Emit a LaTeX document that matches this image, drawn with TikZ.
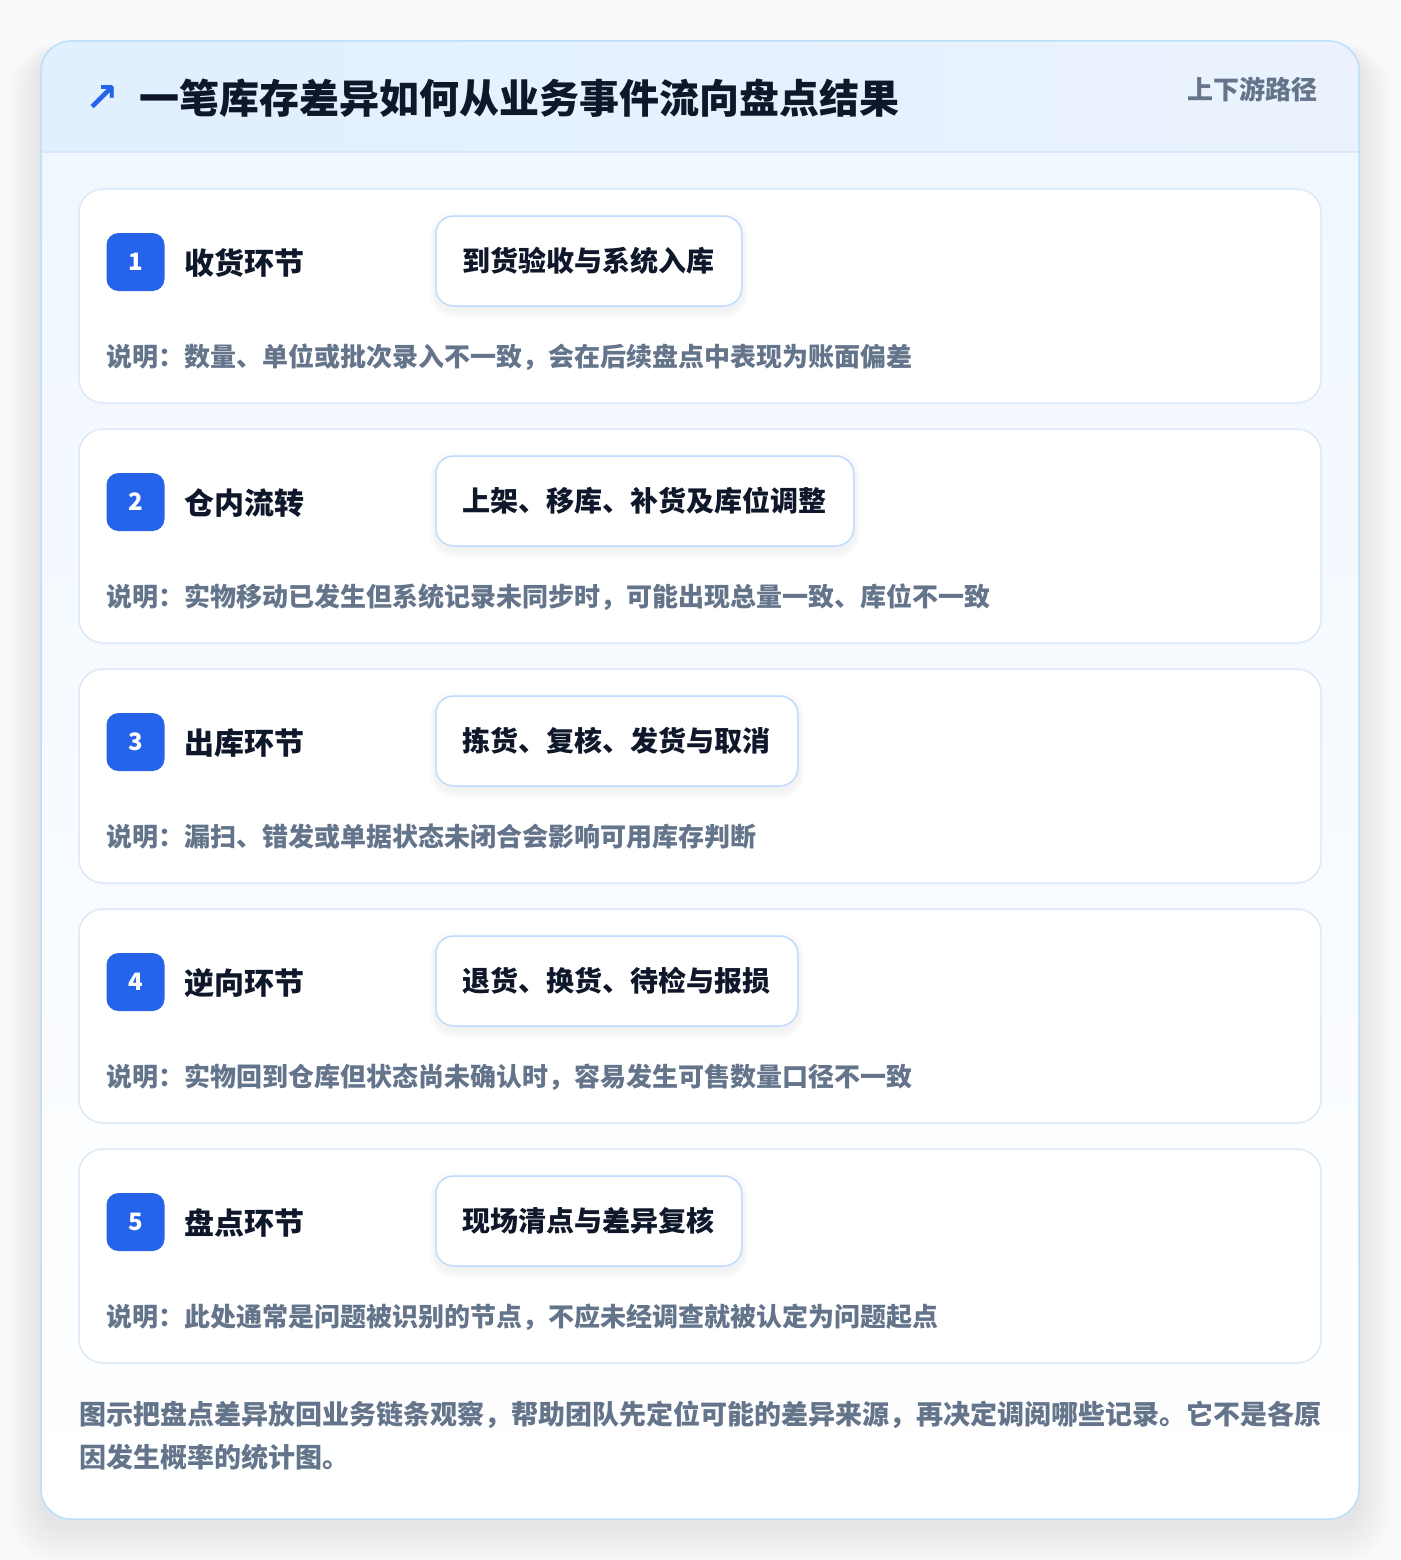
\documentclass[tikz,border=0pt]{standalone}
\usepackage{fontspec}
\setmainfont{Noto Sans CJK SC}
\newfontfamily\dejavu{DejaVu Sans}
\definecolor{pagebg}{HTML}{F9F9FB}
\definecolor{hdrL}{HTML}{E0F0FE}
\definecolor{hdrR}{HTML}{EBF2FE}
\definecolor{bodyT}{HTML}{F0F7FF}
\definecolor{hdrline}{HTML}{D6E8FA}
\definecolor{outerb}{HTML}{BCE0F7}
\definecolor{cardb}{HTML}{DCEAF8}
\definecolor{pillb}{HTML}{BFDBFE}
\definecolor{badgec}{HTML}{2563EB}
\definecolor{titlec}{HTML}{0F172A}
\definecolor{grayc}{HTML}{64748B}
\tikzset{
  cardbox/.style={draw=cardb, line width=1.5pt, fill=white, rounded corners=24pt},
  badgebox/.style={fill=badgec, rounded corners=12pt, minimum width=58pt, minimum height=58pt, inner sep=0pt, text=white, font=\bfseries\fontsize{24}{26}\selectfont},
  steptitle/.style={anchor=west, inner sep=0pt, text=titlec, font=\bfseries\fontsize{30}{34}\selectfont},
  pillbox/.style={anchor=west, draw=pillb, line width=1.5pt, fill=white, rounded corners=18pt, minimum height=90pt, inner xsep=27pt, inner ysep=0pt, text=titlec, font=\bfseries\fontsize{28}{32}\selectfont},
  desctext/.style={anchor=west, inner sep=0pt, text=grayc, font=\bfseries\fontsize{26}{30}\selectfont},
  foottext/.style={anchor=west, inner sep=0pt, text=grayc, font=\bfseries\fontsize{27}{32}\selectfont}
}
\begin{document}
\begin{tikzpicture}[x=1pt,y=-1pt]
\useasboundingbox (0,0) rectangle (1400,1560);
\fill[pagebg] (0,0) rectangle (1400,1560);
% soft shadow
\foreach \i in {1,...,20}{
  \fill[black, opacity=0.0035, rounded corners=30+\i] (41-1.6*\i, 41-0.4*\i+10) rectangle (1359+1.6*\i, 1519+1.8*\i+8);
}
\fill[white, rounded corners=30pt] (41,41) rectangle (1359,1519);
\begin{scope}
  \clip[rounded corners=30pt] (41,41) rectangle (1359,1519);
  \shade[left color=hdrL, right color=hdrR] (41,41) rectangle (1359,152);
  \shade[top color=bodyT, bottom color=white] (41,152) rectangle (1359,1519);
\end{scope}
\draw[hdrline, line width=1.5pt] (41,152) -- (1359,152);
\draw[outerb, line width=1.5pt, rounded corners=30pt] (41,41) rectangle (1359,1519);
% header
\node[text=badgec, inner sep=0pt, font=\dejavu\bfseries\fontsize{40}{40}\selectfont] (icon) at (102,99) {↗};
\node[anchor=west, inner sep=0pt, text=titlec, font=\bfseries\fontsize{40}{44}\selectfont] (title) at (139,98) {一笔库存差异如何从业务事件流向盘点结果};
\node[anchor=east, inner sep=0pt, text=grayc, font=\bfseries\fontsize{26}{30}\selectfont] (tag) at (1318,89) {上下游路径};
% cards
\foreach \n/\t/\p/\d in {
  1/收货环节/到货验收与系统入库/说明：数量、单位或批次录入不一致，会在后续盘点中表现为账面偏差,
  2/仓内流转/上架、移库、补货及库位调整/说明：实物移动已发生但系统记录未同步时，可能出现总量一致、库位不一致,
  3/出库环节/拣货、复核、发货与取消/说明：漏扫、错发或单据状态未闭合会影响可用库存判断,
  4/逆向环节/退货、换货、待检与报损/说明：实物回到仓库但状态尚未确认时，容易发生可售数量口径不一致,
  5/盘点环节/现场清点与差异复核/说明：此处通常是问题被识别的节点，不应未经调查就被认定为问题起点}{
  \pgfmathsetmacro{\yo}{189+(\n-1)*240}
  \draw[cardbox] (79,\yo) rectangle (1321,\yo+214);
  \node[badgebox] (badge\n) at (135.5,\yo+73) {\n};
  \node[steptitle] (stept\n) at (184,\yo+74) {\t};
  \node[pillbox, opacity=0] (ghost\n) at (435,\yo+72) {\p};
  \foreach \k in {1,...,6}{
    \fill[black, opacity=0.006, rounded corners=18+\k] ([xshift=-\k pt, yshift=-3pt+\k pt]ghost\n.north west) rectangle ([xshift=\k pt, yshift=-4pt-1.3*\k pt]ghost\n.south east);
  }
  \node[pillbox] (pill\n) at (435,\yo+72) {\p};
  \node[desctext] (desc\n) at (106,\yo+168) {\d};
}
% footer
\node[foottext] (foot1) at (79,1415) {图示把盘点差异放回业务链条观察，帮助团队先定位可能的差异来源，再决定调阅哪些记录。它不是各原};
\node[foottext] (foot2) at (79,1457) {因发生概率的统计图。};
\end{tikzpicture}
\end{document}
